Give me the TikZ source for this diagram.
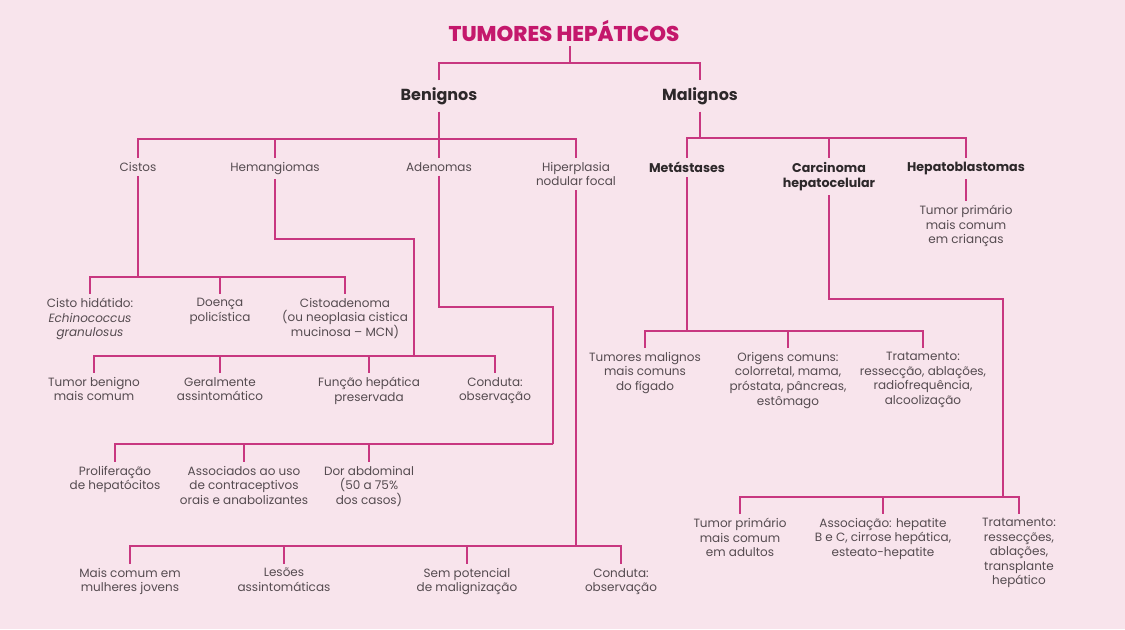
\documentclass[tikz,border=0pt]{standalone}
\usepackage{fontspec}
\setmainfont{Poppins}
\newfontfamily\heavyfont{Poppins ExtraBold}
\usepackage{xcolor}
\usepackage{tikz}
\usetikzlibrary{positioning,calc}
\definecolor{bgpink}{RGB}{248,228,236}
\definecolor{titlemag}{RGB}{196,24,108}
\definecolor{linkpink}{RGB}{200,55,128}
\definecolor{textgray}{RGB}{85,75,80}
\definecolor{headgray}{RGB}{45,40,42}

\begin{document}
\begin{tikzpicture}[
  x=0.75pt, y=-0.75pt,
  headline/.style={font=\fontsize{16}{19}\heavyfont, text=titlemag},
  branch/.style={font=\fontsize{12}{14}\selectfont\bfseries, text=headgray, inner sep=5pt},
  kind/.style={font=\fontsize{9.5}{11.5}\selectfont\bfseries, text=headgray, align=center, anchor=north, inner sep=3pt},
  fact/.style={font=\fontsize{9}{10.9}\selectfont, text=textgray, align=center, anchor=north, inner sep=3pt},
  link/.style={draw=linkpink, line width=1.4pt}
]
\fill[bgpink] (0,0) rectangle (1125,629);

\node[headline] (title) at (564,31) {TUMORES HEPÁTICOS};
\node[branch] (beni) at (439,96) {Benignos};
\node[branch] (mali) at (700,96) {Malignos};

\node[fact] (cistos) at (138,158) {Cistos};
\node[fact] (hema) at (275,158) {Hemangiomas};
\node[fact] (adeno) at (439,158) {Adenomas};
\node[fact] (hiper) at (576,158) {Hiperplasia\\nodular focal};
\node[kind] (meta) at (687,158) {Metástases};
\node[kind] (carc) at (829,158) {Carcinoma\\hepatocelular};
\node[kind] (hepb) at (966,158) {Hepatoblastomas};

\node[fact] (cisto) at (90,294) {Cisto hidátido:\\\textit{Echinococcus}\\\textit{granulosus}};
\node[fact] (doenca) at (220,294) {Doença\\policística};
\node[fact] (cistoad) at (345,294) {Cistoadenoma\\(ou neoplasia cistica\\mucinosa – MCN)};

\node[fact] (tumben) at (94,373) {Tumor benigno\\mais comum};
\node[fact] (geral) at (220,373) {Geralmente\\assintomático};
\node[fact] (funcao) at (369,373) {Função hepática\\preservada};
\node[fact] (cond1) at (495,373) {Conduta:\\observação};

\node[fact] (prolif) at (115,462) {Proliferação\\de hepatócitos};
\node[fact] (assoc) at (244,462) {Associados ao uso\\de contraceptivos\\orais e anabolizantes};
\node[fact] (dor) at (369,462) {Dor abdominal\\(50 a 75\%\\dos casos)};

\node[fact] (mulher) at (130,564) {Mais comum em\\mulheres jovens};
\node[fact] (lesoes) at (284,564) {Lesões\\assintomáticas};
\node[fact] (semp) at (467,564) {Sem potencial\\de malignização};
\node[fact] (cond2) at (621,564) {Conduta:\\observação};

\node[fact] (tummal) at (645,348) {Tumores malignos\\mais comuns\\do fígado};
\node[fact] (orig) at (788,348) {Origens comuns:\\colorretal, mama,\\próstata, pâncreas,\\estômago};
\node[fact] (trat1) at (923,348) {Tratamento:\\ressecção, ablações,\\radiofrequência,\\alcoolização};

\node[fact] (tumad) at (740,514) {Tumor primário\\mais comum\\em adultos};
\node[fact] (assoc2) at (883,514) {Associação: hepatite\\B e C, cirrose hepática,\\esteato-hepatite};
\node[fact] (trat2) at (1019,514) {Tratamento:\\ressecções,\\ablações,\\transplante\\hepático};

\node[fact] (crianca) at (966,201) {Tumor primário\\mais comum\\em crianças};

\coordinate (split) at (570,63);
\coordinate (benibus) at (439,139);
\coordinate (malibus) at (700,138);
\coordinate (cistobus) at (138,277);
\coordinate (hematurn) at (414,239);
\coordinate (hemabus) at (414,356);
\coordinate (adenoturn) at (553,307);
\coordinate (adenobus) at (553,444);
\coordinate (hiperbus) at (576,546);
\coordinate (metabus) at (687,331);
\coordinate (carcturn) at (1003,299);
\coordinate (carcbus) at (1003,497);

\draw[link] (title.south -| split) -- (split);
\draw[link] (beni.north) |- (split) -| (mali.north);

\draw[link] (beni.south) -- (benibus);
\foreach \n in {cistos,hema,adeno,hiper}
  \draw[link] (benibus) -| (\n.north);
\draw[link] (mali.south) -- (malibus);
\foreach \n in {meta,carc,hepb}
  \draw[link] (malibus) -| (\n.north);

\draw[link] (cistos.south) -- (cistobus);
\foreach \n in {cisto,doenca,cistoad}
  \draw[link] (cistobus) -| (\n.north);

\draw[link] (hema.south) |- (hematurn) -- (hemabus);
\foreach \n in {tumben,geral,funcao,cond1}
  \draw[link] (hemabus) -| (\n.north);

\draw[link] (adeno.south) |- (adenoturn) -- (adenobus);
\foreach \n in {prolif,assoc,dor}
  \draw[link] (adenobus) -| (\n.north);

\draw[link] (hiper.south) -- (hiperbus);
\foreach \n in {mulher,lesoes,semp,cond2}
  \draw[link] (hiperbus) -| (\n.north);

\draw[link] (meta.south) -- (metabus);
\foreach \n in {tummal,orig,trat1}
  \draw[link] (metabus) -| (\n.north);

\draw[link] (carc.south) |- (carcturn) -- (carcbus);
\foreach \n in {tumad,assoc2,trat2}
  \draw[link] (carcbus) -| (\n.north);

\draw[link] (hepb.south) -- (crianca.north);
\end{tikzpicture}
\end{document}
